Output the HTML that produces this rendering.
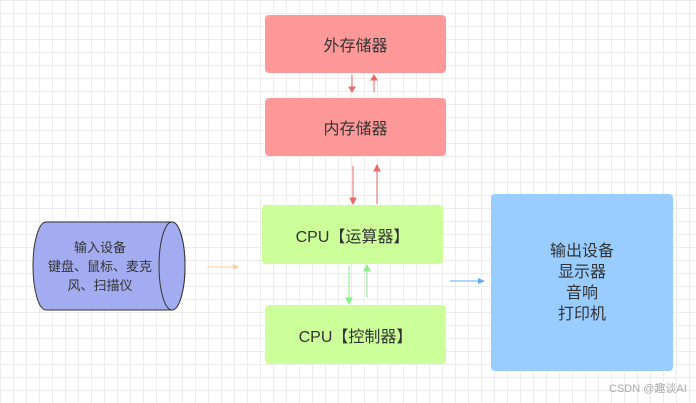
<!DOCTYPE html>
<html><head><meta charset="utf-8"><style>
body{margin:0;width:696px;height:403px;overflow:hidden;background:#fff;
background-image:linear-gradient(#ececec 1px,transparent 1px),linear-gradient(90deg,#ececec 1px,transparent 1px);background-size:13px 13px;
font-family:"Liberation Sans","Noto Sans CJK SC",sans-serif;color:#333;}
.b{position:absolute;border-radius:4px;display:flex;align-items:center;justify-content:center;text-align:center;font-size:16px}
.r{background:#ff9999}.g{background:#ccff99}
</style></head><body>
<div class="b r" style="left:265px;top:15px;width:181px;height:58px">外存储器</div>
<div class="b r" style="left:265px;top:98px;width:181px;height:58px">内存储器</div>
<div class="b g" style="left:262px;top:205px;width:181px;height:59px">CPU【运算器】</div>
<div class="b g" style="left:265px;top:305px;width:181px;height:59px">CPU【控制器】</div>
<div class="b" style="left:491px;top:194px;width:182px;height:177px;background:#99ccff;line-height:21px">输出设备<br>显示器<br>音响<br>打印机</div>
<svg width="696" height="403" style="position:absolute;left:0;top:0">
<path d="M46,222 L172,222 A13,44 0 0 1 172,310 L46,310 A13,44 0 0 1 46,222 Z" fill="#a3acf0" stroke="#333" stroke-width="1"/>
<ellipse cx="172" cy="266" rx="13" ry="44" fill="#a3acf0" stroke="#333" stroke-width="1"/>
<text x="100" y="252" font-size="13" text-anchor="middle" fill="#333">输入设备</text>
<text x="100" y="271" font-size="13" text-anchor="middle" fill="#333">键盘、鼠标、麦克</text>
<text x="100" y="290" font-size="13" text-anchor="middle" fill="#333">风、扫描仪</text>
<g stroke="#e86a6a" fill="#e86a6a" stroke-width="1">
<line x1="352" y1="75" x2="352" y2="88"/><path d="M349,87 L355,87 L352,92Z"/>
<line x1="374" y1="92" x2="374" y2="79"/><path d="M371,80 L377,80 L374,75Z"/>
<line x1="353" y1="166" x2="353" y2="199"/><path d="M350,198 L356,198 L353,204Z"/>
<line x1="377" y1="204" x2="377" y2="170"/><path d="M374,171 L380,171 L377,165Z"/>
</g>
<g stroke="#88ee88" fill="#88ee88" stroke-width="1">
<line x1="349" y1="266" x2="349" y2="299"/><path d="M346,298 L352,298 L349,304Z"/>
<line x1="367" y1="298" x2="367" y2="270"/><path d="M364,271 L370,271 L367,265Z"/>
</g>
<line x1="207" y1="267" x2="235" y2="267" stroke="#ffcc99"/><path d="M233,264 L239,267 L233,270Z" fill="#ffcc99"/>
<line x1="450" y1="281" x2="480" y2="281" stroke="#66aaee"/><path d="M478,278 L485,281 L478,284Z" fill="#66aaee"/>
<text x="609" y="392" font-size="11" fill="#aaa">CSDN @趣谈AI</text>
</svg>
</body></html>
